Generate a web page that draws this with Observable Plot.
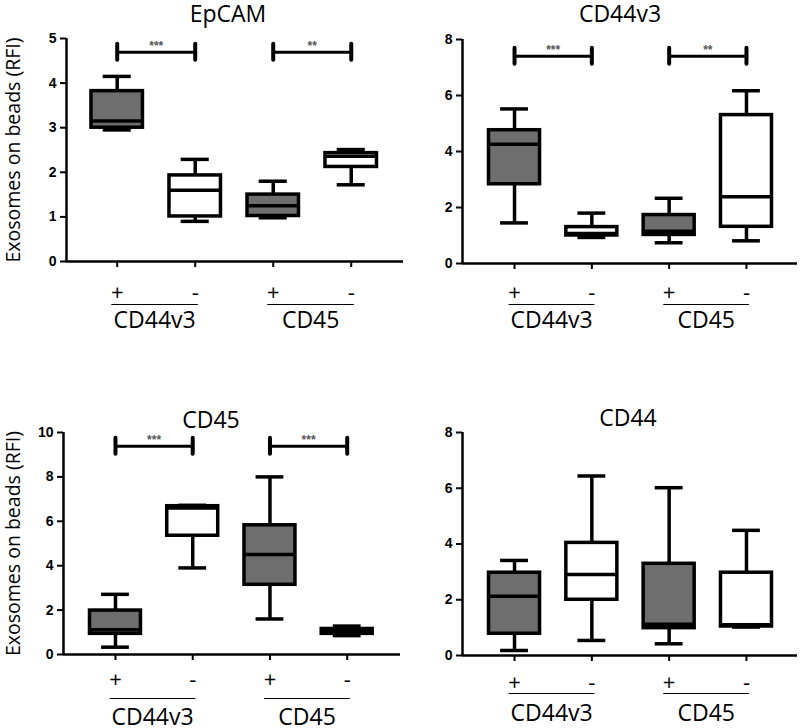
<!DOCTYPE html>
<html>
<head>
<meta charset="utf-8">
<script src="https://cdn.jsdelivr.net/npm/d3@7"></script>
<script src="https://cdn.jsdelivr.net/npm/@observablehq/plot@0.6"></script>
<style>
  html, body { margin: 0; padding: 0; background: #fff; }
  #wrap { position: relative; width: 800px; height: 728px; background: #fff; overflow: hidden; }
  #wrap > svg { position: absolute; }
</style>
</head>
<body>
<div id="wrap"></div>
<script>
// ---- data ----
const categories = ["CD44v3+", "CD44v3-", "CD45+", "CD45-"];
const signs = ["+", "-", "+", "-"];
const groups = ["CD44v3", "CD45"];
const yLabel = "Exosomes on beads (RFI)";

// each row: [min, q1, median, q3, max]
const epcamStats = [[2.95, 3.0, 3.15, 3.82, 4.15], [0.9, 1.01, 1.6, 1.93, 2.29], [0.98, 1.02, 1.25, 1.5, 1.8], [1.72, 2.12, 2.36, 2.43, 2.51]];
const cd44v3Stats = [[1.45, 2.83, 4.26, 4.76, 5.52], [0.93, 1.0, 1.07, 1.3, 1.8], [0.74, 1.02, 1.15, 1.73, 2.33], [0.81, 1.31, 2.38, 5.3, 6.17]];
const cd45Stats = [[0.33, 0.93, 1.12, 1.98, 2.71], [3.9, 5.35, 6.6, 6.68, 6.72], [1.6, 3.14, 4.5, 5.82, 8.0], [0.85, 0.93, 1.02, 1.15, 1.28]];
const cd44Stats = [[0.18, 0.78, 2.13, 2.97, 3.41], [0.54, 2.0, 2.91, 4.04, 6.44], [0.42, 0.98, 1.12, 3.29, 6.02], [1.02, 1.04, 1.1, 2.97, 4.49]];

const epcamTicks = [0, 1, 2, 3, 4, 5];
const cd44v3Ticks = [0, 2, 4, 6, 8];
const cd45Ticks = [0, 2, 4, 6, 8, 10];
const cd44Ticks = [0, 2, 4, 6, 8];

const epcamSig = [4.69, 4.69];
const cd44v3Sig = [7.4, 7.4];
const cd45Sig = [9.38, 9.38];
const epcamStars = ["***", "**"];
const cd44v3Stars = ["***", "**"];
const cd45Stars = ["***", "***"];

// ---- drawing ----
const GRAY = "#6e6e6e";
const SANS = "'Open Sans', 'Noto Sans', sans-serif";
const ARIAL = "'Liberation Sans', Arial, sans-serif";

function makePanel(cfg) {
  const rows = categories.map((c, i) => ({
    cat: c, pos: i + 1, sign: signs[i],
    min: cfg.stats[i][0], q1: cfg.stats[i][1], med: cfg.stats[i][2], q3: cfg.stats[i][3], max: cfg.stats[i][4],
    y0: 0
  }));
  const groupRows = groups.map((g, gi) => {
    const p = rows.filter((r, i) => Math.floor(i / 2) === gi).map(r => r.pos);
    return { name: g, x1: d3.min(p) - 0.07, x2: d3.max(p) + 0.04, cx: d3.mean(p) - 0.02, y0: 0 };
  });
  const sigRows = (cfg.sig || []).map((v, gi) => ({ x1: gi * 2 + 1, x2: gi * 2 + 2, y: v, label: cfg.stars[gi] }));
  const yMax = d3.max(cfg.ticks);
  const W = 0.33, C = 0.18, SW = 3.5;
  const xd = cfg.xDomain;

  const marks = [
    // axis lines
    Plot.ruleY([0], { x1: xd[0], x2: xd[1], strokeWidth: 2.5 }),
    Plot.ruleX([xd[0]], { y1: 0, y2: yMax, strokeWidth: 2.5 }),
    Plot.axisY({ ticks: cfg.ticks, tickSize: 6, tickFormat: () => "", strokeWidth: 2 }),
    Plot.text(cfg.ticks, { x: () => xd[0], y: d => d, text: d => String(d), dx: -10, textAnchor: "end", fontSize: 14, fontWeight: "bold", fontFamily: ARIAL }),
    Plot.axisX({ ticks: rows.map(r => r.pos), tickSize: 6, tickFormat: () => "", strokeWidth: 2 }),
    // whiskers
    Plot.ruleX(rows, { x: "pos", y1: "q3", y2: "max", strokeWidth: SW }),
    Plot.ruleX(rows, { x: "pos", y1: "min", y2: "q1", strokeWidth: SW }),
    Plot.ruleY(rows, { y: "max", x1: d => d.pos - C, x2: d => d.pos + C, strokeWidth: SW }),
    Plot.ruleY(rows, { y: "min", x1: d => d.pos - C, x2: d => d.pos + C, strokeWidth: SW }),
    // boxes
    Plot.rect(rows, { x1: d => d.pos - W, x2: d => d.pos + W, y1: "q1", y2: "q3", fill: d => d.sign === "+" ? GRAY : "#ffffff", stroke: "black", strokeWidth: SW }),
    Plot.ruleY(rows, { y: "med", x1: d => d.pos - W, x2: d => d.pos + W, strokeWidth: SW }),
    // significance bars
    Plot.ruleY(sigRows, { y: "y", x1: "x1", x2: "x2", strokeWidth: 3 }),
    Plot.ruleX(sigRows, { x: "x1", y1: "y", y2: "y", insetTop: -8, insetBottom: -8, strokeWidth: 4, strokeLinecap: "round" }),
    Plot.ruleX(sigRows, { x: "x2", y1: "y", y2: "y", insetTop: -8, insetBottom: -8, strokeWidth: 4, strokeLinecap: "round" }),
    Plot.text(sigRows, { x: d => (d.x1 + d.x2) / 2, y: "y", text: "label", dy: -6, fontSize: 12, fill: "#555", fontFamily: ARIAL, fontWeight: "bold" }),
    // sign labels
    Plot.text(rows, { x: "pos", y: "y0", text: "sign", dy: cfg.signDy, fontSize: 22, fontFamily: SANS }),
    Plot.ruleY(groupRows, { y: "y0", x1: "x1", x2: "x2", dy: cfg.underDy, strokeWidth: 1.2 }),
    Plot.text(groupRows, { x: "cx", y: "y0", text: "name", dy: cfg.groupDy, fontSize: 23, fontFamily: SANS }),
    // title
    Plot.text([cfg.title], { frameAnchor: "top", lineAnchor: "middle", text: d => d, dx: cfg.titleDx, dy: cfg.titleDy, fontSize: 23, fontFamily: SANS })
  ];
  if (cfg.showYLabel) {
    marks.push(Plot.text([yLabel], { frameAnchor: "left", lineAnchor: "middle", text: d => d, rotate: -90, textAnchor: "middle", dx: cfg.yLabelDx, fontSize: 19.5, fontFamily: SANS }));
  }
  const svg = Plot.plot({
    width: cfg.width, height: cfg.height,
    marginLeft: cfg.m[0], marginRight: cfg.m[1], marginTop: cfg.m[2], marginBottom: cfg.m[3],
    x: { type: "linear", domain: xd },
    y: { type: "linear", domain: [0, yMax] },
    color: { type: "identity" },
    style: { background: "transparent", overflow: "visible", color: "black" },
    marks
  });
  svg.style.left = cfg.left + "px";
  svg.style.top = cfg.top + "px";
  return svg;
}

const wrap = document.getElementById("wrap");
wrap.appendChild(makePanel({
  title: "EpCAM", stats: epcamStats, ticks: epcamTicks, sig: epcamSig, stars: epcamStars,
  left: 0, top: 0, width: 405, height: 340, m: [66, 2, 38, 79], xDomain: [0.35, 4.67],
  titleDx: -7, titleDy: -24, signDy: 31, underDy: 43, groupDy: 59, showYLabel: true, yLabelDx: -53
}));
wrap.appendChild(makePanel({
  title: "CD44v3", stats: cd44v3Stats, ticks: cd44v3Ticks, sig: cd44v3Sig, stars: cd44v3Stars,
  left: 400, top: 0, width: 400, height: 340, m: [62, 3, 39, 77], xDomain: [0.327, 4.66],
  titleDx: -10, titleDy: -25, signDy: 29, underDy: 41, groupDy: 57, showYLabel: false
}));
wrap.appendChild(makePanel({
  title: "CD45", stats: cd45Stats, ticks: cd45Ticks, sig: cd45Sig, stars: cd45Stars,
  left: 0, top: 370, width: 402, height: 358, m: [63, 2, 62, 74], xDomain: [0.327, 4.69],
  titleDx: -21, titleDy: -12, signDy: 25, underDy: 44, groupDy: 63, showYLabel: true, yLabelDx: -50
}));
wrap.appendChild(makePanel({
  title: "CD44", stats: cd44Stats, ticks: cd44Ticks, sig: [], stars: [],
  left: 400, top: 370, width: 400, height: 358, m: [62, 3, 62, 73], xDomain: [0.327, 4.66],
  titleDx: -2, titleDy: -14, signDy: 27, underDy: 38, groupDy: 58, showYLabel: false
}));
</script>
</body>
</html>
